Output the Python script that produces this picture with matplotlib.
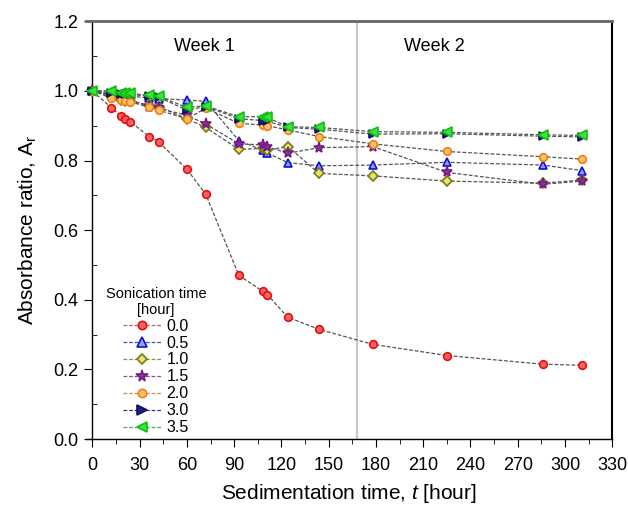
import numpy as np
import matplotlib
matplotlib.use('Agg')
import matplotlib.pyplot as plt

plt.rcParams['font.family'] = ['Liberation Sans', 'DejaVu Sans']
plt.rcParams['mathtext.fontset'] = 'custom'
plt.rcParams['mathtext.rm'] = 'Liberation Sans'
plt.rcParams['mathtext.it'] = 'Liberation Sans:italic'

###--- DATA ---###
times = [0, 12, 18, 21, 24, 36, 42, 60, 72, 93, 108, 111, 124, 144, 178, 225, 286, 311]

labels = ['0.0', '0.5', '1.0', '1.5', '2.0', '3.0', '3.5']

ar_00 = [1.0, 0.952, 0.929, 0.919, 0.912, 0.869, 0.854, 0.775, 0.703, 0.470, 0.425,
         0.415, 0.350, 0.315, 0.272, 0.240, 0.215, 0.212]
ar_05 = [1.0, 0.99, 0.985, 0.985, 0.985, 0.98, 0.978, 0.974, 0.97, 0.857, 0.83,
         0.822, 0.794, 0.785, 0.787, 0.795, 0.787, 0.771]
ar_10 = [1.0, 0.985, 0.975, 0.97, 0.97, 0.96, 0.955, 0.92, 0.895, 0.832, 0.835,
         0.83, 0.840, 0.763, 0.756, 0.741, 0.735, 0.744]
ar_15 = [1.0, 0.99, 0.98, 0.975, 0.975, 0.955, 0.95, 0.93, 0.905, 0.848, 0.845,
         0.84, 0.821, 0.837, 0.840, 0.766, 0.732, 0.741]
ar_20 = [1.0, 0.98, 0.975, 0.97, 0.969, 0.953, 0.945, 0.920, 0.95, 0.907, 0.902,
         0.90, 0.888, 0.869, 0.848, 0.826, 0.811, 0.804]
ar_30 = [1.0, 0.995, 0.99, 0.99, 0.99, 0.985, 0.982, 0.945, 0.955, 0.92, 0.915,
         0.913, 0.895, 0.89, 0.876, 0.877, 0.870, 0.868]
ar_35 = [1.0, 1.001, 0.993, 0.993, 0.993, 0.987, 0.984, 0.953, 0.957, 0.926, 0.926,
         0.924, 0.897, 0.895, 0.883, 0.881, 0.874, 0.872]

series = [ar_00, ar_05, ar_10, ar_15, ar_20, ar_30, ar_35]

#marker styles (marker, face, edge, size)
styles = [('o', '#ff6060', '#e01010', 5.5),
          ('^', '#8fa0ff', '#1010d0', 6),
          ('D', '#e8e070', '#7a7a10', 5),
          ('*', '#9030a0', '#702080', 8),
          ('o', '#ffc070', '#f08010', 5.5),
          ('>', '#202080', '#101060', 6),
          ('<', '#40e040', '#10c010', 7)]
leg_line_cols = ['#c06060', '#4050c0', '#909040', '#905090', '#d09040', '#303090', '#40b040']

fig = plt.figure(figsize=(6.28, 5.07), dpi=100)
ax = fig.add_axes([0.137, 0.134, 0.838, 0.824])

ax.axvline(168, color='#c8c8c8', lw=1.6, zorder=1)

for vals, lab, st, lc in zip(series, labels, styles, leg_line_cols):
    ax.plot(times, vals, ls=(0, (3, 1.5)), color='#555555', lw=0.9, zorder=2)
    ax.plot(times, vals, ls='none', marker=st[0], mfc=st[1], mec=st[2],
            ms=st[3], mew=1.2, zorder=3)
    # legend proxy
    ax.plot([], [], ls=(0, (3, 1.5)), color=lc, lw=0.9, marker=st[0], mfc=st[1],
            mec=st[2], ms=st[3] + 0.5, mew=1.2, label=lab)

ax.text(71, 1.127, 'Week 1', ha='center', va='center', fontsize=13)
ax.text(217, 1.127, 'Week 2', ha='center', va='center', fontsize=13)

ax.set_xlim(-4, 330)
ax.set_ylim(0, 1.2)
ax.set_xticks(np.arange(0, 331, 30))
ax.set_xticks(np.arange(15, 331, 30), minor=True)
ax.set_yticks(np.arange(0, 1.21, 0.2))
ax.set_yticks(np.arange(0.1, 1.2, 0.2), minor=True)
ax.yaxis.set_major_formatter(matplotlib.ticker.FormatStrFormatter('%.1f'))

ax.spines['left'].set_position(('data', 0))
ax.spines['left'].set_linewidth(1.0)
ax.spines['bottom'].set_linewidth(1.0)
ax.spines['right'].set_linewidth(1.5)
ax.spines['top'].set_linewidth(2.0)
ax.spines['top'].set_color('#666666')

ax.tick_params(axis='x', which='major', direction='out', length=6, pad=7, labelsize=13)
ax.tick_params(axis='y', which='major', direction='out', length=6, pad=4, labelsize=13)
ax.tick_params(axis='x', which='minor', direction='out', length=3.5)
ax.tick_params(axis='y', which='minor', direction='in', length=3.5)

ax.set_xlabel('Sedimentation time, $t$ [hour]', fontsize=15, labelpad=6)
ax.set_ylabel('Absorbance ratio, A$_\\mathrm{r}$', fontsize=15, labelpad=10)

leg = ax.legend(title='Sonication time\n[hour]', loc='lower left',
                bbox_to_anchor=(0.01, -0.025), frameon=False, fontsize=11.5,
                title_fontsize=10.5, handlelength=2.4, labelspacing=0.12,
                handletextpad=0.3)
leg.get_title().set_multialignment('center')

fig.savefig('out.png', dpi=100)
